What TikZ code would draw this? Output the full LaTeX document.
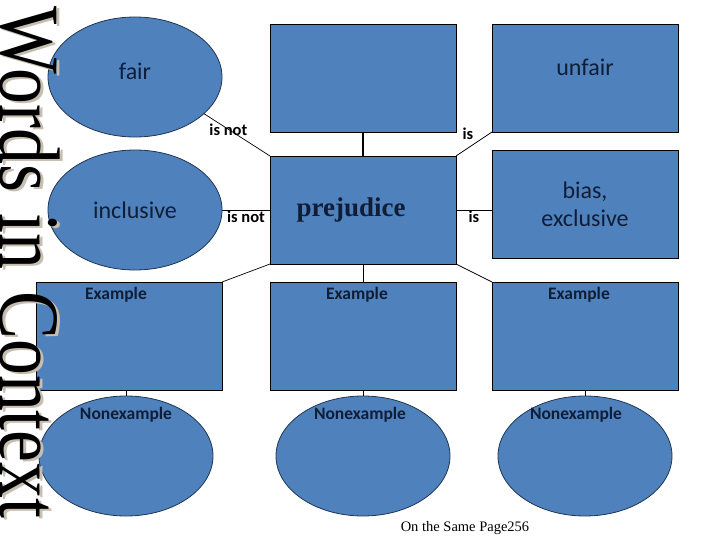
\documentclass[tikz,border=0pt]{standalone}
\usepackage{fontspec}
\setmainfont{Carlito}
\newfontfamily\timesf{Liberation Serif}
\usepackage{tikz}
\usetikzlibrary{positioning,shapes.geometric}
\definecolor{ppblue}{HTML}{4F81BD}
\definecolor{ink}{HTML}{0F1E36}
\definecolor{rim}{HTML}{1F3553}
\definecolor{shade}{HTML}{C6BEB0}
\tikzset{
  card/.style={draw=black, fill=ppblue, rectangle, minimum width=186pt, minimum height=108pt, inner sep=0pt, outer sep=0pt, line width=0.8pt},
  oval/.style={draw=rim, fill=ppblue, ellipse, minimum width=174pt, minimum height=120pt, inner sep=0pt, outer sep=0pt, line width=0.8pt},
  word/.style={text=ink, font=\fontsize{24}{28}\selectfont, align=center, inner sep=1pt},
  exlbl/.style={text=ink, font=\bfseries\fontsize{17.5}{20}\selectfont, inner sep=1pt},
  lbl/.style={font=\bfseries\fontsize{16.5}{19}\selectfont, inner sep=1pt},
  link/.style={draw=black, line width=0.7pt},
  heavy/.style={draw=black, line width=2.6pt},
  sidetitle/.style={font=\timesf\fontsize{86}{90}\selectfont, rotate=-90, xscale=0.835, anchor=base west, inner sep=0pt, text depth=0pt}
}
\begin{document}
\begin{tikzpicture}[x=1pt, y=-1pt]
\useasboundingbox (0,0) rectangle (720,540);
% centre of the map
\node[card] (prej) at (363,210) {};
\node[word, font=\timesf\bfseries\fontsize{27}{30}\selectfont] (prejT) at ([xshift=-12pt]prej.center) {prejudice};
\node[card, above=24pt of prej] (top) {};
\node[card, right=36pt of top] (unfair) {};
\node[word] (unfairT) at ([yshift=11pt]unfair.center) {unfair};
\node[card, right=36pt of prej, yshift=6pt] (bias) {};
\node[word] (biasT) at (bias.center) {bias,\\exclusive};
\node[oval, left=48pt of prej] (incl) {};
\node[word] (inclT) at (incl.center) {inclusive};
\node[oval, above=13pt of incl] (fair) {};
\node[word] (fairT) at ([yshift=6pt]fair.center) {fair};
% examples and nonexamples
\node[card, below=18pt of prej] (exM) {};
\node[card, right=36pt of exM] (exR) {};
\node[card, left=48pt of exM] (exL) {};
\node[oval, below=6pt of exL, xshift=-3pt] (nonexL) {};
\node[oval, below=6pt of exM] (nonexM) {};
\node[oval, below=6pt of exR] (nonexR) {};
\foreach \b/\dx in {exL/-13pt, exM/-6pt, exR/-6pt}
  \node[exlbl, below=4pt of \b.north, xshift=\dx] (\b T) {Example};
\foreach \b/\dx in {nonexL/0pt, nonexM/-3pt, nonexR/-9pt}
  \node[exlbl, below=10pt of \b.north, xshift=\dx] (\b T) {Nonexample};
% connectors
\draw[link] (fair.-28) -- (prej.north west) node[lbl, pos=0.37] (isnotA) {is not};
\draw[link] (incl.east) -- (prej.west) node[lbl, midway, below=0pt] (isnotB) {is not};
\draw[heavy] (top.south) -- (prej.north);
\draw[link] (prej.north east) -- (unfair.south west) node[lbl, pos=0.33, above=7pt] (isA) {is};
\draw[link] (prej.east) -- (prej.east -| bias.west) node[lbl, midway, below=0pt] (isB) {is};
\draw[link] (prej.south west) -- (exL.north east);
\draw[link] (prej.south) -- (exM.north);
\draw[link] (prej.south east) -- (exR.north west);
\draw[link] (nonexL.north) -- (nonexL.north |- exL.south);
\draw[link] (nonexM.north) -- (exM.south);
\draw[link] (nonexR.north) -- (exR.south);
% footer and side title
\node[font=\timesf\fontsize{14.5}{17}\selectfont, inner sep=0pt] (pg) at (465,528) {On the Same Page256};
\node[sidetitle, text=shade] (titleS) at (3,8.5) {Words\hspace{0.3em}in\hspace{0.3em}Context};
\node[sidetitle] (title) at (1,6.5) {Words\hspace{0.3em}in\hspace{0.3em}Context};
\end{tikzpicture}
\end{document}
